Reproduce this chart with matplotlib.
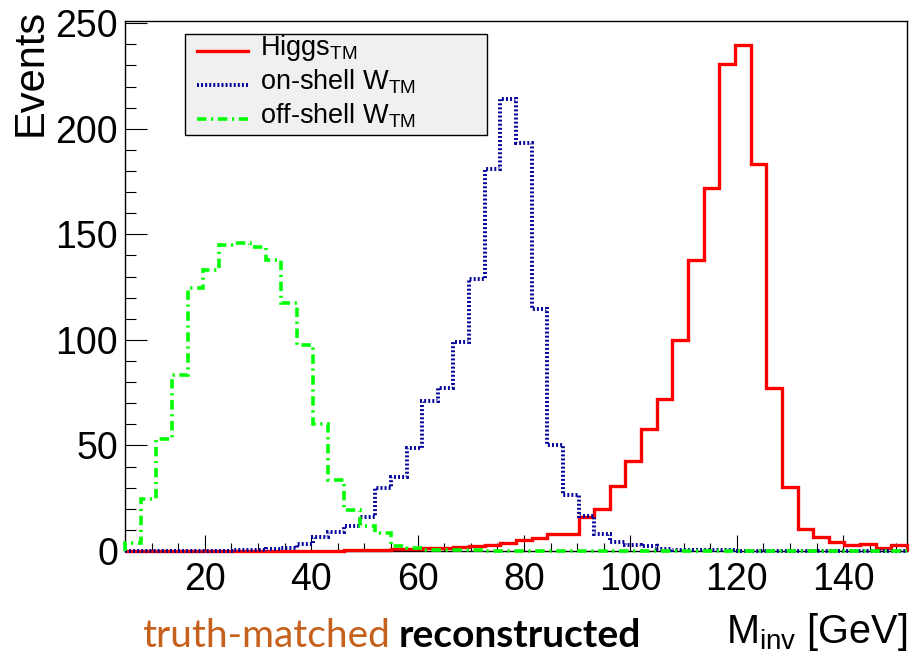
import matplotlib
matplotlib.use('Agg')
import matplotlib.pyplot as plt
import numpy as np
from matplotlib.ticker import MultipleLocator
from matplotlib.lines import Line2D
from matplotlib.patches import Rectangle

plt.rcParams['font.family'] = ['Liberation Sans', 'DejaVu Sans']
plt.rcParams['mathtext.fontset'] = 'custom'
plt.rcParams['mathtext.rm'] = 'Liberation Sans'
plt.rcParams['mathtext.it'] = 'Liberation Sans:italic'
plt.rcParams['mathtext.bf'] = 'Liberation Sans:bold'

# ---------------- data ----------------
x_min, x_max, n_bins = 5.0, 152.0, 50

higgs = [0, 0, 0, 0, 0, 0, 0, 0, 0, 0, 0, 0, 0, 0,
         0.3, 0.5, 0.7, 0.8, 1.0, 1.2, 1.5, 1.8, 2.2, 2.8, 3.8, 5.0, 6.0, 8.0,
         8.2, 16.0, 20.0, 31.0, 42.5, 58.0, 72.0, 100.0, 138.0, 172.0, 230.5,
         239.5, 183.5, 77.0, 30.5, 10.5, 6.5, 4.3, 2.9, 3.1, 1.5, 2.7]

onshell_w = [0, 0, 0, 0, 0, 0, 0.2, 0.3, 0.5, 0.8, 1.5, 3.5, 6.5, 9.0, 12.0,
             16.0, 30.0, 35.0, 49.0, 71.0, 77.0, 99.0, 129.0, 181.0, 214.0,
             193.5, 114.5, 50.0, 26.5, 16.7, 8.0, 4.2, 2.8, 2.2, 0.8, 0.6,
             0.3, 0.3, 0.3, 0.2, 0.2, 0.2, 0, 0, 0, 0, 0, 0, 0, 0]

offshell_w = [3.9, 24.5, 53.0, 83.5, 124.5, 133.0, 145.0, 146.0, 144.0, 138.0,
              117.5, 97.5, 60.0, 33.5, 19.5, 12.0, 8.5, 2.2, 1.3, 0.5,
              0.3, 0.3, 0.3, 0.2, 0.2, 0.2, 0, 0, 0, 0, 0, 0, 0, 0, 0, 0,
              0, 0, 0, 0, 0, 0, 0, 0, 0, 0, 0, 0, 0, 0]

labels = [r'Higgs$_{\mathrm{TM}}$', r'on-shell W$_{\mathrm{TM}}$', r'off-shell W$_{\mathrm{TM}}$']
colors = ['#ff0000', '#000099', '#00ff00']
y_max = 251.2

# ---------------- figure ----------------
W, H = 912, 656
fig = plt.figure(figsize=(W / 100, H / 100), dpi=100)


def fx(px):
    return px / W


def fy(py):
    return 1 - py / H


ax = fig.add_axes([fx(125), fy(551), fx(907) - fx(125), fy(20.7) - fy(551)])
edges = np.linspace(x_min, x_max, n_bins + 1)

styles = [
    dict(lw=2.4, ls='-'),
    dict(lw=2.8, ls=(0, (0.5, 0.55))),
    dict(lw=2.6, ls=(0, (2.6, 1.3, 0.6, 1.3))),
]
for vals, c, st in zip([higgs, onshell_w, offshell_w], colors, styles):
    ax.stairs(vals, edges, color=c, linewidth=st['lw'], linestyle=st['ls'],
              zorder=3, clip_on=False)

ax.set_xlim(x_min, x_max)
ax.set_ylim(0, y_max)

ax.xaxis.set_major_locator(MultipleLocator(20))
ax.xaxis.set_minor_locator(MultipleLocator(5))
ax.yaxis.set_major_locator(MultipleLocator(50))
ax.yaxis.set_minor_locator(MultipleLocator(10))
ax.tick_params(which='both', direction='in', top=False, right=False, color='black')
ax.tick_params(axis='y', which='major', length=15.5, width=0.8, pad=5, labelsize=27)
ax.tick_params(axis='y', which='minor', length=8, width=0.8)
ax.tick_params(axis='x', which='major', length=11.5, width=0.8, pad=8, labelsize=27)
ax.tick_params(axis='x', which='minor', length=5.8, width=0.8)
for s in ax.spines.values():
    s.set_linewidth(1.0)
    s.set_color('black')

# axis titles
fig.text(fx(11), fy(9), 'Events', rotation=90, ha='left', va='top', fontsize=30)
fig.text(fx(907), fy(643), r'M$_{\mathrm{inv}}$ [GeV]', ha='right', va='baseline', fontsize=28.5)

# legend (manual, ROOT style)
fig.add_artist(Rectangle((fx(185), fy(135)), fx(487) - fx(185), fy(34) - fy(135),
                         transform=fig.transFigure, facecolor='#f0f0f0',
                         edgecolor='black', linewidth=1.0, zorder=5))
sample_y = [50.5, 84.5, 118.5]
text_base = [55, 89, 123]
for lab, c, st, sy, tb in zip(labels, colors, styles, sample_y, text_base):
    fig.add_artist(Line2D([fx(197), fx(248)], [fy(sy), fy(sy)], color=c,
                          linewidth=st['lw'], linestyle=st['ls'],
                          transform=fig.transFigure, zorder=6))
    fig.text(fx(260), fy(tb), lab, ha='left', va='baseline', fontsize=19.5, zorder=7)

# bottom annotation
t1 = fig.text(fx(142), fy(647), 'truth-matched', color='#c5611c', fontsize=28,
              family=['Lato', 'DejaVu Sans'], ha='left', va='baseline')
fig.canvas.draw()
r = fig.canvas.get_renderer()
bb = t1.get_window_extent(r)
fig.text(bb.x1 / W + fx(9), fy(647), 'reconstructed', color='black', fontsize=28,
         fontweight='bold', family=['Lato', 'DejaVu Sans'], ha='left', va='baseline')

fig.savefig('out.png', dpi=100)
